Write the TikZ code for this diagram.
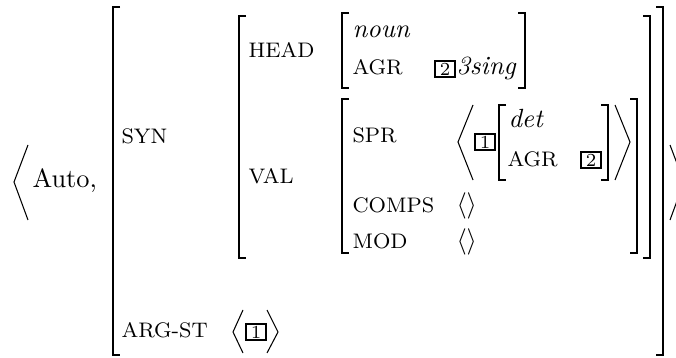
\documentclass[tikz,border=0pt]{standalone}
\tikzset{
  brk/.style={line width=0.5pt},
  ang/.style={line width=0.4pt, line join=miter},
  lbl/.style={anchor=base west, inner sep=0pt, font=\footnotesize},
  val/.style={anchor=base west, inner sep=0pt},
  tagbox/.style={draw, line width=0.8pt, inner sep=0pt, minimum width=7.6pt, minimum height=6.4pt, font=\scriptsize}
}
\newcommand{\lbrk}[3]{\draw[brk] (#1+7,#2) -- (#1,#2) -- (#1,#3) -- (#1+7,#3);}
\newcommand{\rbrk}[3]{\draw[brk] (#1-7,#2) -- (#1,#2) -- (#1,#3) -- (#1-7,#3);}
\begin{document}
\begin{tikzpicture}[x=0.38pt, y=-0.38pt]
\useasboundingbox (0,0) rectangle (676,358);
\clip (0,0) rectangle (676,358);
% outer angle brackets
\draw[ang] (28,145) -- (14,182) -- (28,220);
\draw[ang] (670,145) -- (684,182) -- (670,220);
\node[val, font=\normalsize] (auto) at (32,188) {Auto,};
% outer AVM
\lbrk{113}{7}{355}
\rbrk{663}{7}{355}
\node[lbl] (syn) at (121,144) {SYN};
\node[lbl] (argst) at (121,338) {ARG-ST};
% SYN AVM
\lbrk{239}{16}{258}
\rbrk{650}{16}{258}
\node[lbl] (head) at (248,58) {HEAD};
\node[lbl] (valf) at (248,184) {VAL};
% HEAD value
\lbrk{342}{13}{88}
\rbrk{525}{13}{88}
\node[val] (noun) at (352,38) {\itshape noun};
\node[lbl] (agrh) at (352,75) {AGR};
\node[tagbox] (tagb) at (445,69) {2};
\node[val] (sing) at (456,75) {\itshape 3sing};
% VAL value
\lbrk{342}{99}{253}
\rbrk{637}{99}{253}
\node[lbl] (spr) at (352,143) {SPR};
\draw[ang] (473,105) -- (458,142) -- (473,180);
\draw[ang] (615,105) -- (630,142) -- (615,180);
\node[tagbox] (taga) at (485,142) {1};
\lbrk{499}{105}{180}
\rbrk{608}{105}{180}
\node[val] (det) at (508,128) {\itshape det};
\node[lbl] (agrd) at (507,167) {AGR};
\node[tagbox] (tagc) at (591,160) {2};
\node[lbl] (comps) at (352,213) {COMPS};
\node[val] (compsv) at (456,213) {$\langle\rangle$};
\node[lbl] (mod) at (352,249) {MOD};
\node[val] (modv) at (456,249) {$\langle\rangle$};
% ARG-ST value
\draw[ang] (243,310) -- (233,332) -- (243,353);
\node[tagbox] (tagd) at (256,332) {1};
\draw[ang] (267,310) -- (278,332) -- (267,353);
\end{tikzpicture}
\end{document}
